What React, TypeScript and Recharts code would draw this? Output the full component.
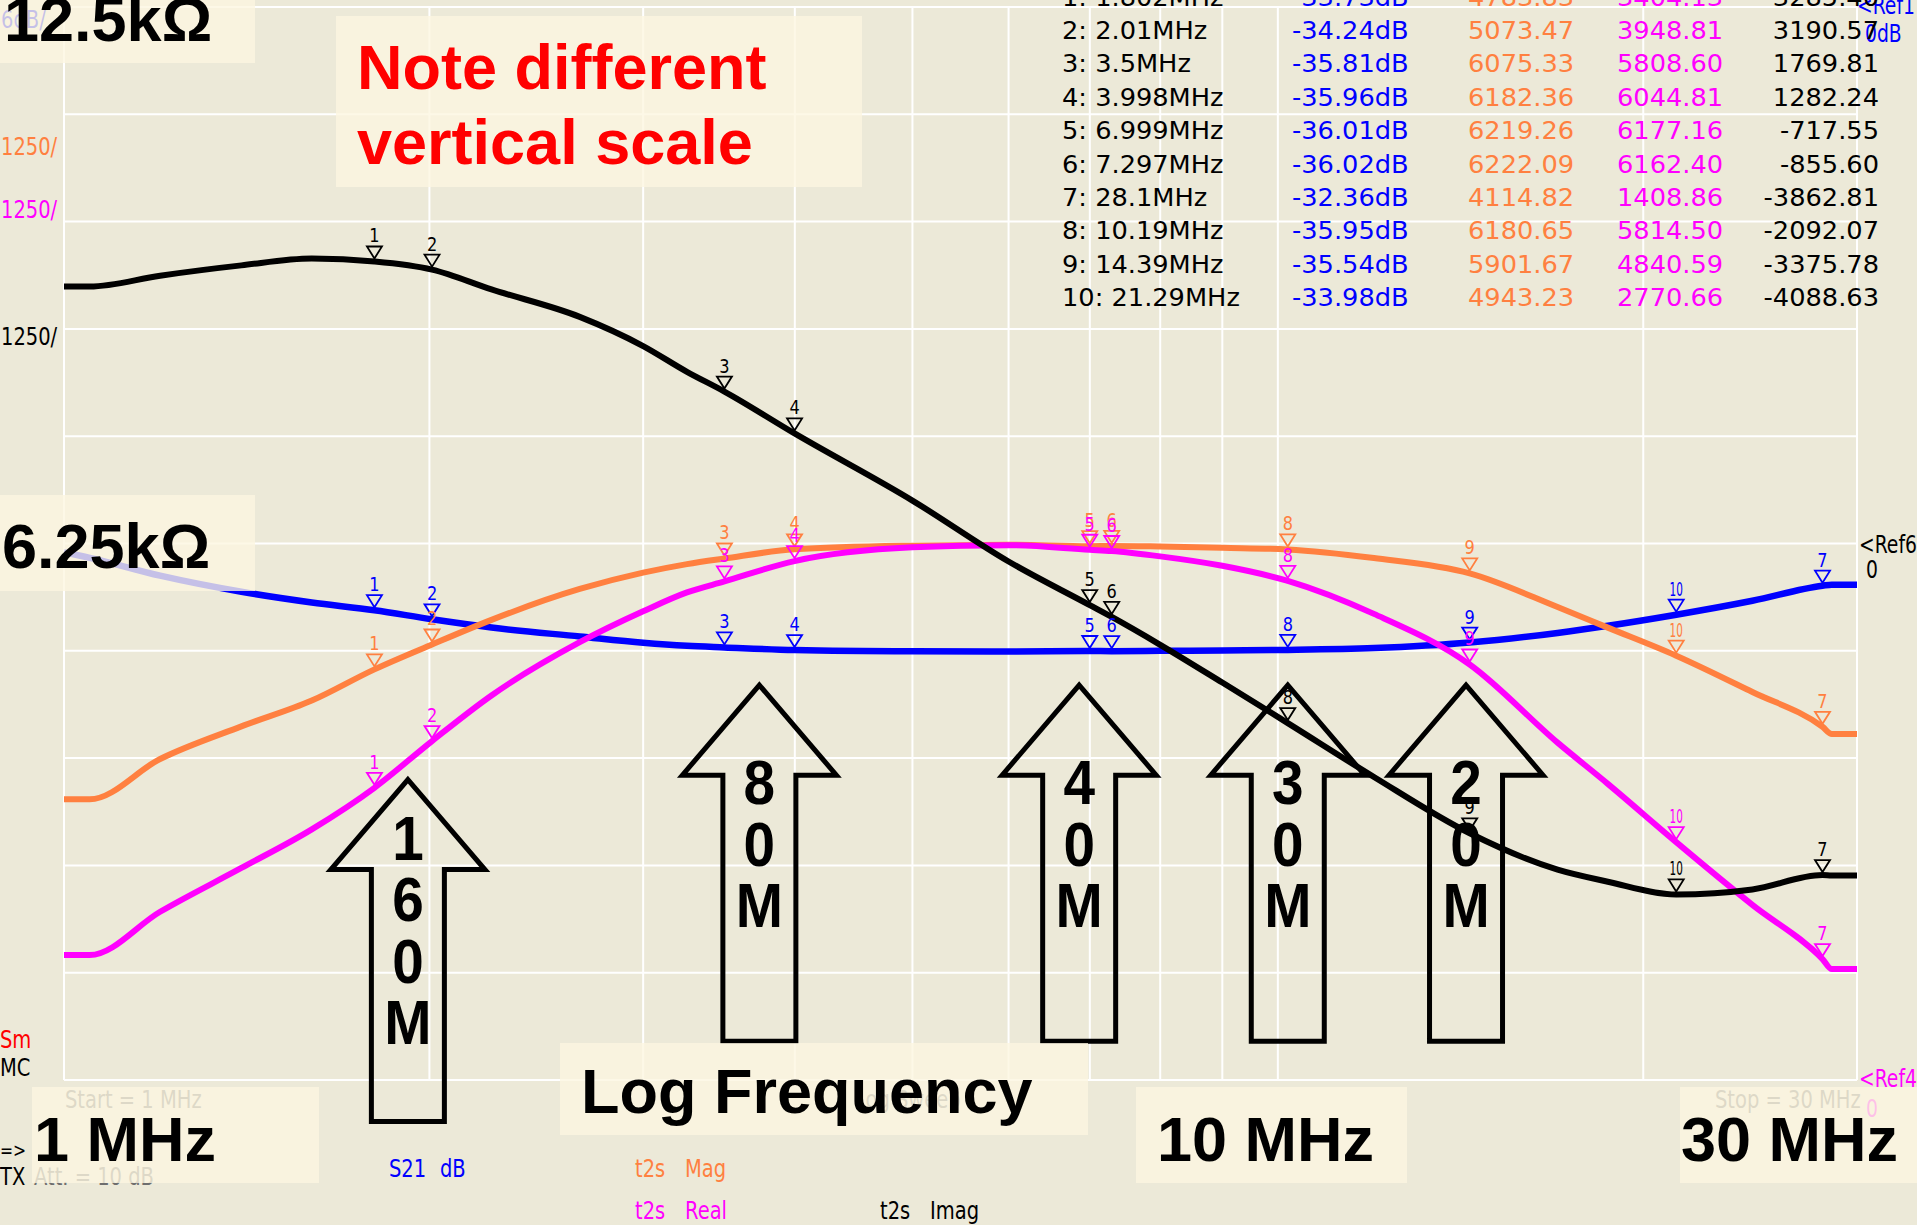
import React from "react";
import { LineChart, Line, XAxis, YAxis, CartesianGrid, ReferenceDot } from "recharts";

const W = 1917;
const H = 1225;
const BG = "#ECE9D8";
const BOX = "rgba(253, 246, 224, 0.78)";
const BLUE = "#0000FF";
const ORANGE = "#FF8040";
const MAGENTA = "#FF00FF";
const BLACK = "#000000";
const GREY = "#6E6E6E";

// marker table, markers 1..10 in table order
const markerFreqs = [1.802, 2.01, 3.5, 3.998, 6.999, 7.297, 28.1, 10.19, 14.39, 21.29];
const markerFreqText = ["1.802MHz", "2.01MHz", "3.5MHz", "3.998MHz", "6.999MHz", "7.297MHz", "28.1MHz", "10.19MHz", "14.39MHz", "21.29MHz"];
const markerS21 = [-33.73, -34.24, -35.81, -35.96, -36.01, -36.02, -32.36, -35.95, -35.54, -33.98];
const markerMag = [4783.83, 5073.47, 6075.33, 6182.36, 6219.26, 6222.09, 4114.82, 6180.65, 5901.67, 4943.23];
const markerReal = [3404.13, 3948.81, 5808.6, 6044.81, 6177.16, 6162.4, 1408.86, 5814.5, 4840.59, 2770.66];
const markerImag = [3285.4, 3190.57, 1769.81, 1282.24, -717.55, -855.6, -3862.81, -2092.07, -3375.78, -4088.63];

// sweep points
const sweepFreqs = [1, 1.05, 1.2, 1.4, 1.6, 2.25, 2.66, 3.0, 3.26, 5, 6, 8, 9, 12, 17, 18.7, 24.6, 28.6, 30];
const sweepS21 = [-30.5, -30.8, -31.8, -32.7, -33.3, -34.7, -35.2, -35.55, -35.72, -36.03, -36.04, -36.0, -35.98, -35.85, -35.0, -34.6, -33.2, -32.3, -32.3];
const sweepMag = [3270, 3270, 3740, 4120, 4420, 5360, 5720, 5910, 6010, 6225, 6235, 6215, 6200, 6080, 5510, 5270, 4520, 4031, 4031];
const sweepReal = [1456, 1456, 1960, 2470, 2920, 4480, 5100, 5460, 5680, 6205, 6230, 6100, 5990, 5430, 3930, 3450, 2040, 1293, 1293];
const sweepImag = [2994, 2994, 3120, 3240, 3320, 2960, 2640, 2300, 2000, 500, -210, -1180, -1620, -2720, -3800, -3940, -4030, -3868, -3868];

const freqTicks = [1, 2, 3, 4, 5, 6, 7, 8, 9, 10, 20, 30];
const ohmTicks = [0, 1250, 2500, 3750, 5000, 6250, 7500, 8750, 10000, 11250, 12500];

const bandNames = ["160M", "80M", "40M", "30M", "20M"];
const bandFreqs = [1.92, 3.74, 6.86, 10.19, 14.29];

const data = [
  ...sweepFreqs.map((f, i) => ({ f, s21: sweepS21[i], mag: sweepMag[i], real: sweepReal[i], imag: sweepImag[i], marker: "" })),
  ...markerFreqs.map((f, i) => ({ f, s21: markerS21[i], mag: markerMag[i], real: markerReal[i], imag: markerImag[i], marker: String(i + 1) })),
].sort((a, b) => a.f - b.f);

const markerDot = (color: string) => (props: any) => {
  const { cx, cy, payload, index } = props;
  if (!payload || !payload.marker || cx == null || cy == null) return <g key={index} />;
  const tip = cy - 3;
  const sx = payload.marker.length > 1 ? 0.55 : 0.85;
  return (
    <g key={index}>
      <path d={`M${cx - 7.5},${tip - 12} L${cx + 7.5},${tip - 12} L${cx},${tip} Z`} fill="none" stroke={color} strokeWidth={1.8} />
      <text transform={`translate(${cx},${tip - 16}) scale(${sx},1)`} textAnchor="middle" fontFamily="'DejaVu Sans', sans-serif" fontSize={19} fill={color}>
        {payload.marker}
      </text>
    </g>
  );
};

function BandArrow({ cx, cy, label }: { cx: number; cy: number; label: string }) {
  const chars = label.split("");
  const len = chars.length > 3 ? 342 : 356;
  const first = chars.length > 3 ? 80 : 119;
  const hw = 77;
  const sw = 36.5;
  const hh = 90;
  const d = `M${cx},${cy} L${cx + hw},${cy + hh} L${cx + sw},${cy + hh} L${cx + sw},${cy + len} L${cx - sw},${cy + len} L${cx - sw},${cy + hh} L${cx - hw},${cy + hh} Z`;
  return (
    <g>
      <path d={d} fill="none" stroke={BLACK} strokeWidth={5} />
      {chars.map((c, i) => (
        <text
          key={i}
          transform={`translate(${cx},${cy + first + i * 61.5}) scale(0.9,1)`}
          textAnchor="middle"
          fontFamily="'Liberation Sans', Arial, sans-serif"
          fontWeight="bold"
          fontSize={63}
          fill={BLACK}
        >
          {c}
        </text>
      ))}
    </g>
  );
}

function Small({ x, y, fill = BLACK, size = 25, sx = 0.78, anchor = "start", children }: any) {
  return (
    <text transform={`translate(${x},${y}) scale(${sx},1)`} textAnchor={anchor} fontFamily="'DejaVu Sans', sans-serif" fontSize={size} fill={fill}>
      {children}
    </text>
  );
}

function Big({ x, y, fill = BLACK, children }: any) {
  return (
    <text x={x} y={y} fontFamily="'Liberation Sans', Arial, sans-serif" fontWeight="bold" fontSize={63} fill={fill}>
      {children}
    </text>
  );
}

export default function App() {
  return (
    <div style={{ position: "absolute", left: 0, top: 0, width: W, height: H, background: BG, overflow: "hidden" }}>
      <LineChart width={W} height={H} data={data} margin={{ top: 7, right: 60, bottom: 145, left: 64 }}>
        <XAxis dataKey="f" type="number" scale="log" domain={[1, 30]} ticks={freqTicks} allowDataOverflow hide />
        <YAxis yAxisId="db" type="number" domain={[-60, 0]} hide />
        <YAxis yAxisId="ohm" type="number" domain={[0, 12500]} ticks={ohmTicks} hide />
        <YAxis yAxisId="imag" type="number" domain={[-6250, 6250]} hide />
        <CartesianGrid yAxisId="ohm" stroke="#FFFFFF" strokeWidth={2} fill="none" />
        <Line yAxisId="db" dataKey="s21" type="monotone" stroke={BLUE} strokeWidth={6.5} dot={markerDot(BLUE)} activeDot={false} isAnimationActive={false} />
        <Line yAxisId="ohm" dataKey="mag" type="monotone" stroke={ORANGE} strokeWidth={6} dot={markerDot(ORANGE)} activeDot={false} isAnimationActive={false} />
        <Line yAxisId="ohm" dataKey="real" type="monotone" stroke={MAGENTA} strokeWidth={6} dot={markerDot(MAGENTA)} activeDot={false} isAnimationActive={false} />
        <Line yAxisId="imag" dataKey="imag" type="monotone" stroke={BLACK} strokeWidth={6} dot={markerDot(BLACK)} activeDot={false} isAnimationActive={false} />
        {bandNames.map((b, i) => (
          <ReferenceDot
            key={b}
            x={bandFreqs[i]}
            y={i === 0 ? 3500 : 4600}
            yAxisId="ohm"
            r={0}
            ifOverflow="visible"
            shape={(p: any) => <BandArrow cx={p.cx} cy={p.cy} label={b} />}
          />
        ))}
      </LineChart>

      <svg width={W} height={H} style={{ position: "absolute", left: 0, top: 0, pointerEvents: "none" }}>
        {/* instrument scale labels */}
        <Small x={1} y={28} fill={BLUE}>6dB/</Small>
        <Small x={1} y={155} fill={ORANGE}>1250/</Small>
        <Small x={1} y={218} fill={MAGENTA}>1250/</Small>
        <Small x={1} y={345} fill={BLACK}>1250/</Small>
        <Small x={1857} y={14} fill={BLUE} sx={0.75}>&lt;Ref1</Small>
        <Small x={1865} y={42} fill={BLUE} sx={0.75}>0dB</Small>
        <Small x={1859} y={553} sx={0.75}>&lt;Ref6</Small>
        <Small x={1866} y={578} sx={0.75}>0</Small>
        <Small x={1859} y={1087} fill={MAGENTA} sx={0.75}>&lt;Ref4</Small>
        <Small x={1866} y={1117} fill={MAGENTA} sx={0.75}>0</Small>
        <Small x={0} y={1048} fill="#FF0000">Sm</Small>
        <Small x={0} y={1076}>MC</Small>
        <Small x={0} y={1157} size={20}>=&gt;</Small>
        <Small x={0} y={1185}>TX</Small>
        <Small x={34} y={1185} fill={GREY}>Att.  = 10 dB</Small>
        <Small x={65} y={1108} fill={GREY}>Start = 1 MHz</Small>
        <Small x={855} y={1108} fill={GREY}>Log Sweep</Small>
        <Small x={1715} y={1108} fill={GREY}>Stop = 30 MHz</Small>
        <Small x={389} y={1177} fill={BLUE}>S21</Small>
        <Small x={440} y={1177} fill={BLUE}>dB</Small>
        <Small x={635} y={1177} fill={ORANGE}>t2s</Small>
        <Small x={685} y={1177} fill={ORANGE}>Mag</Small>
        <Small x={635} y={1219} fill={MAGENTA}>t2s</Small>
        <Small x={685} y={1219} fill={MAGENTA}>Real</Small>
        <Small x={880} y={1219}>t2s</Small>
        <Small x={930} y={1219}>Imag</Small>

        {/* marker table */}
        {markerFreqs.map((f, i) => {
          const y = 5.6 + i * 33.4;
          return (
            <g key={f}>
              <Small x={1062} y={y} size={24} sx={1.07}>{`${i + 1}: ${markerFreqText[i]}`}</Small>
              <Small x={1292} y={y} size={24} sx={1.07} fill={BLUE}>{`${markerS21[i].toFixed(2)}dB`}</Small>
              <Small x={1468} y={y} size={24} sx={1.07} fill={ORANGE}>{markerMag[i].toFixed(2)}</Small>
              <Small x={1617} y={y} size={24} sx={1.07} fill={MAGENTA}>{markerReal[i].toFixed(2)}</Small>
              <Small x={1879} y={y} size={24} sx={1.07} anchor="end">{markerImag[i].toFixed(2)}</Small>
            </g>
          );
        })}

        {/* callout boxes */}
        <rect x={0} y={0} width={255} height={63} fill={BOX} />
        <rect x={0} y={495} width={255} height={96} fill={BOX} />
        <rect x={336} y={16} width={526} height={171} fill={BOX} />
        <rect x={560} y={1043} width={528} height={92} fill={BOX} />
        <rect x={32} y={1087} width={287} height={96} fill={BOX} />
        <rect x={1136} y={1087} width={271} height={96} fill={BOX} />
        <rect x={1680} y={1087} width={237} height={96} fill={BOX} />

        <Big x={4} y={41}>12.5kΩ</Big>
        <Big x={2} y={568}>6.25kΩ</Big>
        <Big x={357} y={89} fill="#FF0000">Note different</Big>
        <Big x={357} y={164} fill="#FF0000">vertical scale</Big>
        <Big x={581} y={1113}>Log Frequency</Big>
        <Big x={34} y={1161}>1 MHz</Big>
        <Big x={1157} y={1161}>10 MHz</Big>
        <Big x={1681} y={1161}>30 MHz</Big>
      </svg>
    </div>
  );
}
